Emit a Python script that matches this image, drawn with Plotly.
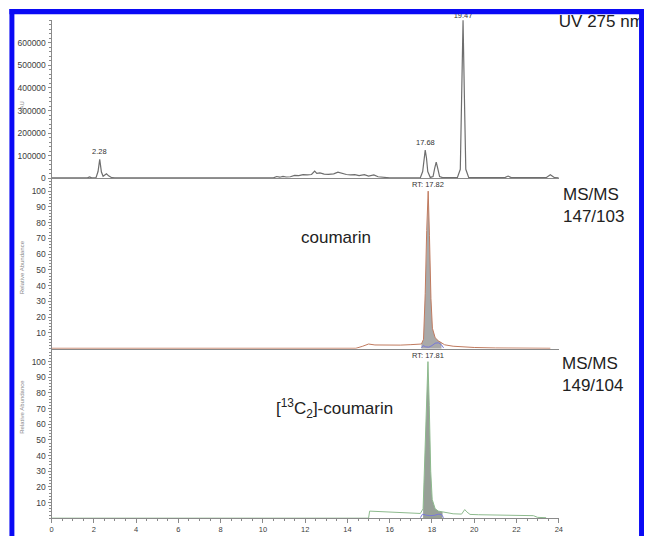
import plotly.graph_objects as go

W, H = 648, 541

# ---------------- data ----------------
uv_time = [0.0, 1.0, 1.7, 1.8, 1.9, 2.1, 2.2, 2.28, 2.36, 2.44, 2.52, 2.6, 2.7, 2.85, 3.0,
           10.5, 10.65, 10.8, 10.95, 11.1, 11.3, 11.5, 11.7, 11.9, 12.1, 12.3, 12.45, 12.55,
           12.7, 12.9, 13.1, 13.35, 13.55, 13.75, 13.95, 14.15, 14.35, 14.55, 14.8, 15.0,
           15.25, 15.45, 15.7, 16.0, 17.0, 17.45, 17.56, 17.62, 17.68, 17.74, 17.8, 17.92,
           18.05, 18.13, 18.2, 18.27, 18.36, 18.5, 19.2, 19.34, 19.41, 19.47, 19.53, 19.6,
           19.74, 20.5, 21.45, 21.6, 21.75, 22.5, 23.4, 23.6, 23.8, 24.0]
uv_val = [2000, 2000, 2000, 6000, 2000, 2000, 30000, 84000, 28000, 9000, 14000, 20000, 11000, 3000, 2000,
          2000, 8000, 5000, 9000, 6000, 7000, 13000, 12000, 16000, 15000, 17000, 32000, 22000,
          24000, 19000, 18000, 20000, 27000, 21000, 17000, 15000, 16000, 12000, 16000, 10000,
          15000, 7000, 5000, 2000, 2000, 3000, 30000, 90000, 125000, 90000, 30000, 4000,
          8000, 45000, 72000, 45000, 8000, 3000, 3000, 40000, 380000, 700000, 380000, 40000,
          3000, 3000, 3000, 10000, 3000, 3000, 3000, 16000, 3000, 2000]

ms1_time = [0.0, 14.4, 14.7, 15.0, 15.3, 15.8, 16.5, 17.0, 17.5, 17.6, 17.68, 17.75, 17.82,
            17.88, 17.95, 18.02, 18.15, 18.3, 18.45, 18.6, 19.0, 19.5, 20.0, 21.0, 22.0, 23.0, 23.6]
ms1_val = [0.3, 0.3, 1.5, 3.0, 2.4, 2.2, 2.3, 2.6, 3.0, 6, 35, 75, 100,
           72, 32, 13, 7, 5, 4, 2.5, 1.6, 1.0, 0.8, 0.5, 0.4, 0.3, 0.3]
ms1_base_time = [17.5, 17.58, 17.7, 17.85, 18.0, 18.15, 18.3, 18.45, 18.55]
ms1_base_val = [0.5, 2.0, 1.2, 1.0, 2.0, 3.5, 3.8, 2.5, 0.5]

ms2_time = [0.0, 15.0, 15.05, 15.5, 16.0, 16.5, 17.0, 17.45, 17.58, 17.66, 17.74, 17.81, 17.87,
            17.94, 18.01, 18.15, 18.3, 18.5, 18.7, 19.0, 19.4, 19.55, 19.65, 19.8, 20.2, 21.0,
            22.0, 22.8, 23.0, 23.4]
ms2_val = [0.0, 0.0, 4.5, 4.2, 3.8, 3.4, 3.2, 3.0, 6, 35, 75, 100, 72,
           30, 12, 6, 4.5, 4.0, 3.2, 2.8, 2.6, 5.5, 4.0, 2.4, 2.2, 2.0,
           1.8, 1.6, 0.5, 0.3]
ms2_base_time = [17.45, 17.55, 17.7, 17.9, 18.1, 18.3, 18.45, 18.55]
ms2_base_val = [0.3, 2.5, 2.0, 1.6, 1.8, 2.5, 2.3, 0.3]

uv_ticks = [0, 100000, 200000, 300000, 400000, 500000, 600000]
ms_ticks = [10, 20, 30, 40, 50, 60, 70, 80, 90, 100]
time_ticks = [0, 2, 4, 6, 8, 10, 12, 14, 16, 18, 20, 22, 24]
fill_window = (17.5, 18.5)

# ---------------- helpers ----------------
def px(x):
    return x / W

def py(y):
    return 1 - y / H

FONT = "Liberation Sans, Arial, sans-serif"
AXC = "#8a8a8a"
TICKF = dict(family=FONT, size=8.5, color="#404040")

fig = go.Figure()

# panel 1: UV
fig.add_trace(go.Scatter(x=uv_time, y=uv_val, mode="lines", xaxis="x", yaxis="y",
                         line=dict(color="#6e6e6e", width=1.2)))

# panel 2
f_t = [t for t in ms1_time if fill_window[0] <= t <= fill_window[1]]
f_v = [v for t, v in zip(ms1_time, ms1_val) if fill_window[0] <= t <= fill_window[1]]
fig.add_trace(go.Scatter(x=f_t, y=f_v, mode="lines", xaxis="x2", yaxis="y2", fill="tozeroy",
                         fillcolor="#a9a9a9", line=dict(width=0)))
fig.add_trace(go.Scatter(x=ms1_time, y=ms1_val, mode="lines", xaxis="x2", yaxis="y2",
                         line=dict(color="#c07a5e", width=1)))
fig.add_trace(go.Scatter(x=ms1_base_time, y=ms1_base_val, mode="lines", xaxis="x2", yaxis="y2",
                         line=dict(color="#7878d8", width=1)))

# panel 3
f_t = [t for t in ms2_time if fill_window[0] <= t <= fill_window[1]]
f_v = [v for t, v in zip(ms2_time, ms2_val) if fill_window[0] <= t <= fill_window[1]]
fig.add_trace(go.Scatter(x=f_t, y=f_v, mode="lines", xaxis="x3", yaxis="y3", fill="tozeroy",
                         fillcolor="#97a097", line=dict(width=0)))
fig.add_trace(go.Scatter(x=ms2_time, y=ms2_val, mode="lines", xaxis="x3", yaxis="y3",
                         line=dict(color="#8dba8d", width=1)))
fig.add_trace(go.Scatter(x=ms2_base_time, y=ms2_base_val, mode="lines", xaxis="x3", yaxis="y3",
                         line=dict(color="#7878d8", width=1)))

# texts near the blue frame (trace text, drawn beneath the frame)
fig.add_trace(go.Scatter(x=[24.0], y=[690000], mode="text", text=["UV 275 nm"],
                         textposition="middle right", cliponaxis=False, xaxis="x", yaxis="y",
                         textfont=dict(family=FONT, size=17, color="#222")))
fig.add_trace(go.Scatter(x=[19.47], y=[700000], mode="text", text=["19.47"],
                         textposition="top center", cliponaxis=False, xaxis="x", yaxis="y",
                         textfont=dict(family=FONT, size=7.5, color="#333")))

xdom = [px(50), px(562)]
y1dom = [py(180), py(20)]
y2dom = [py(352), py(181)]
y3dom = [py(523), py(353)]

common_x = dict(range=[0, 24], domain=xdom, showline=True, linecolor=AXC, linewidth=1,
                showgrid=False, zeroline=False)
common_y = dict(showline=True, linecolor=AXC, linewidth=1, showgrid=False, zeroline=False,
                ticks="outside", ticklen=3, tickcolor=AXC, tickfont=TICKF)

fig.update_layout(
    width=W, height=H, margin=dict(l=0, r=0, t=0, b=0),
    paper_bgcolor="white", plot_bgcolor="white", showlegend=False, hovermode=False,
    xaxis=dict(common_x, anchor="y", showticklabels=False, ticks=""),
    yaxis=dict(common_y, domain=y1dom, anchor="x", range=[0, 701750],
               tickvals=uv_ticks, ticktext=[str(v) for v in uv_ticks],
               minor=dict(dtick=20000, ticks="outside", ticklen=2, tickcolor=AXC)),
    xaxis2=dict(common_x, anchor="y2", showticklabels=False, ticks="", matches="x"),
    yaxis2=dict(common_y, domain=y2dom, anchor="x2", range=[0, 107.5],
                tickvals=ms_ticks, ticktext=[str(v) for v in ms_ticks],
                minor=dict(dtick=2, ticks="outside", ticklen=2, tickcolor=AXC)),
    xaxis3=dict(common_x, anchor="y3", ticks="outside", ticklen=4, tickcolor=AXC,
                tickvals=time_ticks, ticktext=[str(v) for v in time_ticks],
                tickfont=dict(family=FONT, size=7.5, color="#404040"),
                matches="x",
                minor=dict(dtick=0.5, ticks="outside", ticklen=2, tickcolor=AXC)),
    yaxis3=dict(common_y, domain=y3dom, anchor="x3", range=[0, 107.6],
                tickvals=ms_ticks, ticktext=[str(v) for v in ms_ticks],
                minor=dict(dtick=2, ticks="outside", ticklen=2, tickcolor=AXC)),
)

small = dict(family=FONT, size=7.5, color="#333")
big = dict(family=FONT, size=17, color="#222")
ann = [
    dict(x=2.28, y=84000, xref="x", yref="y", text="2.28", showarrow=False,
         yanchor="bottom", yshift=1, font=small),
    dict(x=17.68, y=125000, xref="x", yref="y", text="17.68", showarrow=False,
         yanchor="bottom", yshift=1, font=small),
    dict(x=17.82, y=100, xref="x2", yref="y2", text="RT: 17.82", showarrow=False,
         yanchor="bottom", yshift=0, font=small),
    dict(x=17.81, y=100, xref="x3", yref="y3", text="RT: 17.81", showarrow=False,
         yanchor="bottom", yshift=0, font=small),
    dict(x=px(564), y=py(207), xref="paper", yref="paper", text="MS/MS<br>147/103",
         showarrow=False, xanchor="left", yanchor="middle", align="left", font=big),
    dict(x=px(337), y=py(240), xref="paper", yref="paper", text="coumarin",
         showarrow=False, xanchor="center", yanchor="middle", font=big),
    dict(x=px(563), y=py(378), xref="paper", yref="paper", text="MS/MS<br>149/104",
         showarrow=False, xanchor="left", yanchor="middle", align="left", font=big),
    dict(x=px(275), y=py(412), xref="paper", yref="paper",
         text="[<sup>13</sup>C<sub>2</sub>]-coumarin",
         showarrow=False, xanchor="left", yanchor="middle", font=big),
    dict(x=px(15), y=py(100), xref="paper", yref="paper", text="uAU", textangle=-90,
         showarrow=False, font=dict(family=FONT, size=6, color="#888")),
    dict(x=px(15), y=py(270), xref="paper", yref="paper", text="Relative Abundance",
         textangle=-90, showarrow=False, font=dict(family=FONT, size=6, color="#888")),
    dict(x=px(15), y=py(440), xref="paper", yref="paper", text="Relative Abundance",
         textangle=-90, showarrow=False, font=dict(family=FONT, size=6, color="#888")),
]
fig.update_layout(annotations=ann)

# blue frame
BLUE = "#0a0af5"
shapes = [
    dict(type="rect", xref="paper", yref="paper", x0=px(7.5), x1=1.0, y0=py(14.5), y1=py(9),
         fillcolor=BLUE, line=dict(width=0), layer="above"),
    dict(type="rect", xref="paper", yref="paper", x0=px(7.5), x1=px(12.5), y0=0, y1=py(9),
         fillcolor=BLUE, line=dict(width=0), layer="above"),
    dict(type="rect", xref="paper", yref="paper", x0=px(643), x1=1.0, y0=0, y1=py(9),
         fillcolor=BLUE, line=dict(width=0), layer="above"),
]
fig.update_layout(shapes=shapes)

fig.write_html("out.html", config={"displayModeBar": False, "staticPlot": True},
               post_script="document.body.style.margin='0';document.body.style.overflow='hidden';")
